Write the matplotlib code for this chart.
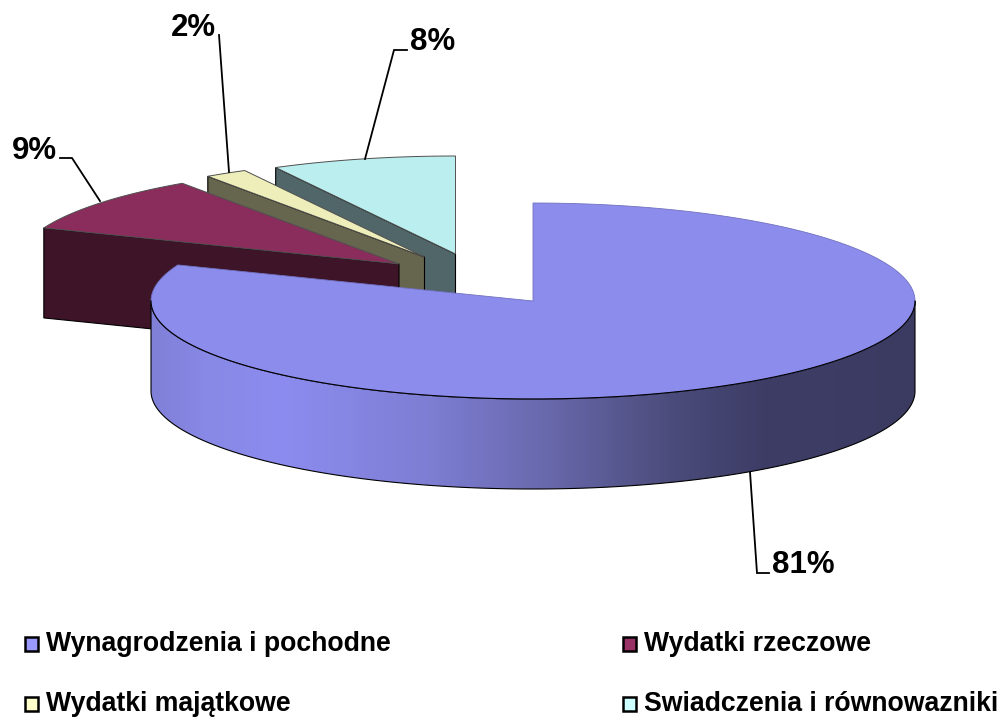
import numpy as np
import matplotlib
matplotlib.use('Agg')
from matplotlib import pyplot as plt
from matplotlib.colors import LinearSegmentedColormap
from matplotlib.patches import Polygon, Rectangle

plt.rcParams['font.family'] = ['Liberation Sans', 'DejaVu Sans']

# data
categories = ['Wynagrodzenia i pochodne', 'Wydatki rzeczowe', 'Wydatki majątkowe', 'Swiadczenia i równowazniki']
values = [81.0, 9.4, 1.8, 7.8]

# styles
top_colors = ['#8C8CEC', '#8B2D5C', '#EEEEBB', '#BBEEEE']
side_colors = ['#7878C8', '#3D1428', '#66664F', '#516668']
legend_colors = ['#9999FF', '#993366', '#FFFFCC', '#CCFFFF']
apex = [(533, 301), (399, 264), (424.5, 257), (455.5, 254)]
RX, RY, DEPTH = 382, 98, 90

fig = plt.figure(figsize=(10.01, 7.17), dpi=100)
ax = fig.add_axes([0, 0, 1, 1])
ax.set_xlim(0, 1001)
ax.set_ylim(717, 0)
ax.axis('off')

ends = np.cumsum(values) / sum(values) * 2 * np.pi
starts = np.concatenate([[0], ends[:-1]])


def rim(c, a):
    return c[0] + RX * np.sin(a), c[1] - RY * np.cos(a)


def wedge(i, z):
    a = np.linspace(starts[i], ends[i], 200)
    x, y = rim(apex[i], a)
    xs = np.r_[apex[i][0], x]
    ys = np.r_[apex[i][1], y] + z
    return np.c_[xs, ys]


# exploded slices, back to front
for i in [3, 2, 1]:
    x0, y0 = rim(apex[i], starts[i])
    cx, cy = apex[i]
    face = [(cx, cy), (x0, y0), (x0, y0 + DEPTH), (cx, cy + DEPTH)]
    ax.add_patch(Polygon(face, closed=True, fc=side_colors[i], ec='black', lw=0.8, zorder=2 + (3 - i) * 2))
    ax.add_patch(Polygon(wedge(i, 0), closed=True, fc=top_colors[i], ec='#505050', lw=0.7, zorder=3 + (3 - i) * 2))

# big slice: outer wall with gradient
a = np.linspace(np.pi / 2, 3 * np.pi / 2, 300)
x, y = rim(apex[0], a)
wall = np.r_[np.c_[x, y], np.c_[x[::-1], y[::-1] + DEPTH]]
stops = [(0.0, '#8080D8'), (0.07, '#8888E6'), (0.17, '#8C8CF0'), (0.36, '#7E7ED4'),
         (0.52, '#6868AC'), (0.68, '#4C4C7C'), (0.80, '#3D3D66'), (1.0, '#3B3B62')]
cmap = LinearSegmentedColormap.from_list('wall', stops)
l, r = apex[0][0] - RX, apex[0][0] + RX
im = ax.imshow(np.linspace(0, 1, 512)[None, :], cmap=cmap, aspect='auto',
               extent=(l, r, 500, 190), zorder=10)
outline = Polygon(wall, closed=True, fc='none', ec='black', lw=0.8, zorder=11)
ax.add_patch(outline)
im.set_clip_path(outline)
ax.set_xlim(0, 1001)
ax.set_ylim(717, 0)
ax.add_patch(Polygon(wedge(0, 0), closed=True, fc=top_colors[0], ec='#7070C0', lw=0.6, zorder=12))
# front edge of the top face
ax.plot(x, y, color='black', lw=0.8, zorder=13)

# leader lines and labels
labels = ['%d%%' % round(v) for v in values]
leaders = [[(750, 472), (757, 573), (769, 573)],
           [(100, 201), (72, 158), (60, 158)],
           [(229, 172), (219, 35)],
           [(365, 159), (394, 50), (407, 50)]]
label_pos = [(803, 565), (34, 151), (193, 28), (433, 42)]
for pts, lab, pos in zip(leaders, labels, label_pos):
    ax.plot(*zip(*pts), color='black', lw=1.3, zorder=14, solid_joinstyle='miter')
    ax.text(pos[0], pos[1], lab, fontsize=22.5, fontweight='bold', ha='center', va='center', zorder=15)

# legend
legend_x = [25, 623]
legend_y = [644, 704]
for i, name in enumerate(categories):
    lx = legend_x[i % 2]
    ly = legend_y[i // 2]
    ax.add_patch(Rectangle((lx, ly - 7), 13, 14, fc=legend_colors[i], ec='black', lw=1.8, zorder=15))
    ax.text(lx + 21, ly, name, fontsize=19.2, fontweight='bold', ha='left', va='center', zorder=15)

fig.savefig('out.png', dpi=100)
